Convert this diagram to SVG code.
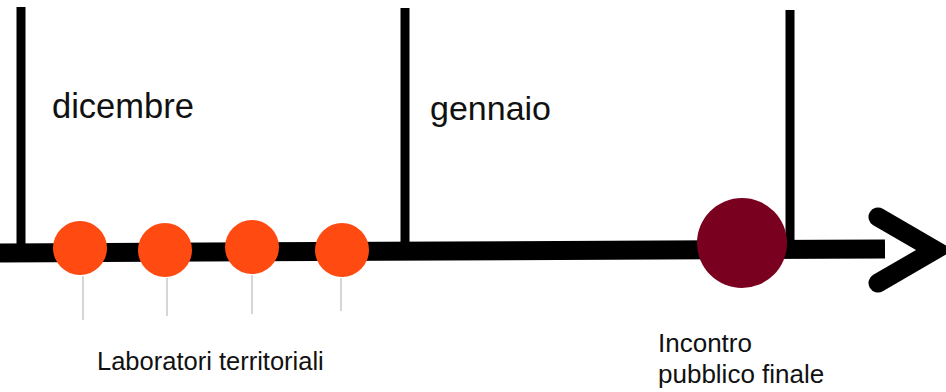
<svg xmlns="http://www.w3.org/2000/svg" width="946" height="392" viewBox="0 0 946 392">
<style>
.t{font-family:"Liberation Sans",Arial,sans-serif;fill:#111}
.tick{stroke:#000;stroke-width:9;fill:none}
.stem{stroke:#bbb;stroke-width:1.2}
.lab{fill:#ff4a12}
</style>
<rect width="946" height="392" fill="#fff"/>
<g id="connectors">
<line class="tick" x1="21" y1="7" x2="21" y2="248"/>
<line class="tick" x1="405" y1="8" x2="405" y2="246"/>
<line class="tick" x1="790" y1="10" x2="790" y2="243"/>
<path d="M0 253 L885 249" stroke="#000" stroke-width="19" fill="none"/>
<path d="M878 217 L935 250 L878 283" stroke="#000" stroke-width="19" fill="none" stroke-linecap="round" stroke-linejoin="miter"/>
<line class="stem" x1="83" y1="276" x2="83" y2="320"/>
<line class="stem" x1="167" y1="278" x2="167" y2="316"/>
<line class="stem" x1="252" y1="275" x2="252" y2="314"/>
<line class="stem" x1="341" y1="278" x2="341" y2="311"/>
</g>
<g id="dicembre"><text class="t" x="52" y="118" font-size="34.5">dicembre</text></g>
<g id="gennaio"><text class="t" x="430" y="120" font-size="34">gennaio</text></g>
<g id="lab1"><circle class="lab" cx="80" cy="248" r="27"/></g>
<g id="lab2"><circle class="lab" cx="165" cy="250" r="27"/></g>
<g id="lab3"><circle class="lab" cx="252" cy="247" r="27"/></g>
<g id="lab4"><circle class="lab" cx="342" cy="250" r="27"/></g>
<g id="incontro"><circle cx="742" cy="243" r="45" fill="#7a0020"/></g>
<g id="label-lab"><text class="t" x="97" y="370" font-size="25.5">Laboratori territoriali</text></g>
<g id="label-incontro"><text class="t" x="658" y="352" font-size="26">Incontro</text><text class="t" x="658" y="383" font-size="26">pubblico finale</text></g>
</svg>
